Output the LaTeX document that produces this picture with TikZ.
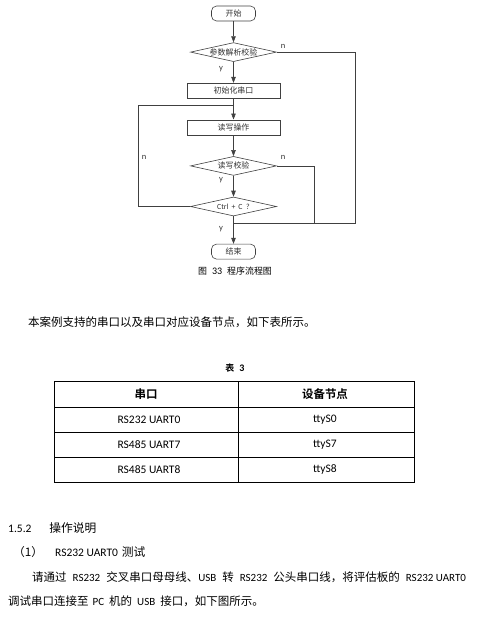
\documentclass[tikz,border=0pt]{standalone}
\usepackage{fontspec}
\setmainfont{Carlito}
\newfontfamily\cjk[Scale=1.21, BoldFont={Noto Sans CJK SC Bold}]{Noto Sans CJK SC}
\usetikzlibrary{positioning, arrows.meta, shapes.geometric}
\definecolor{strich}{HTML}{404040}
\definecolor{schrift}{HTML}{333333}
\newcommand\zh[1]{{\cjk #1}}
\newcommand\zhs[1]{{\fontsize{9.5}{12}\selectfont\cjk #1}}

\begin{document}
\begin{tikzpicture}[x=1pt, y=-1pt, node distance=21pt,
      kapsel/.style={draw=strich, line width=0.6pt, rounded corners=5pt,
        minimum width=44pt, minimum height=15pt, inner sep=0pt,
        text=schrift, font=\fontsize{6.6}{8}\selectfont},
      block/.style={draw=strich, line width=0.6pt, minimum width=93pt,
        minimum height=15pt, inner sep=0pt, text=schrift,
        font=\fontsize{6.6}{8}\selectfont},
      raute/.style={diamond, aspect=4.5, draw=strich, line width=0.6pt,
        minimum width=86pt, minimum height=19pt, inner sep=0pt, text=schrift,
        font=\fontsize{6.6}{8}\selectfont},
      pfeil/.style={-{Triangle[length=6pt, width=4.5pt]}, strich, line width=0.6pt},
      linie/.style={strich, line width=0.6pt},
      marke/.style={inner sep=0pt, text=schrift, font=\fontsize{8.5}{10}\selectfont},
      zeile/.style={anchor=west, inner sep=0pt, font=\fontsize{11}{12}\selectfont},
      titel/.style={anchor=west, inner sep=0pt, font=\fontsize{11.5}{14}\selectfont},
      zelle/.style={inner sep=0pt, font=\fontsize{11.5}{13}\selectfont},
      tabline/.style={black, line width=0.9pt}]
    \useasboundingbox (0,0) rectangle (487,629);
    % flowchart
    \node[kapsel] (start) at (233.5,13.5) {\zh{开始}};
    \node[raute, below=of start] (pruef) {\zh{参数解析校验}};
    \node[block, below=of pruef] (init) {\zh{初始化串口}};
    \node[block, below=of init] (rw) {\zh{读写操作}};
    \node[raute, below=of rw] (rwpruef) {\zh{读写校验}};
    \node[raute, below=of rwpruef] (ctrl) {\fontsize{7.8}{8}\selectfont Ctrl\ \,+\ \,C\ \ ?};
    \node[kapsel, below=27.5pt of ctrl] (ende) {\zh{结束}};
    \coordinate (rechts) at (355,223);
    \coordinate (mitte) at (314,223);
    \coordinate (unten) at (ctrl.south |- rechts);
    \coordinate (links) at (138,105);
    \coordinate (oben) at (init.south |- links);
    \draw[pfeil] (start) -- (pruef);
    \draw[pfeil] (pruef) -- (init);
    \draw[pfeil] (init) -- (rw);
    \draw[pfeil] (rw) -- (rwpruef);
    \draw[pfeil] (rwpruef) -- (ctrl);
    \draw[pfeil] (ctrl) -- (ende);
    \draw[linie] (pruef.east) -| (rechts) -- (unten);
    \draw[linie] (rwpruef.east) -| (mitte);
    \draw[linie] (ctrl.west) -| (links) -- (oben);
    \node[marke] (n1) at (283,46) {n};
    \node[marke] (n2) at (283,157) {n};
    \node[marke] (n3) at (144,157) {n};
    \node[marke] (y1) at (221,69) {y};
    \node[marke] (y2) at (221,180) {y};
    \node[marke] (y3) at (221,229) {y};
    % caption and text
    \node[inner sep=0pt, font=\fontsize{10}{12}\selectfont] (bild) at (235,271)
      {{\fontsize{7.4}{9}\selectfont\cjk 图}\hspace{5pt}33\hspace{5pt}{\fontsize{7.4}{9}\selectfont\cjk 程序流程图}};
    \node[zeile] (satz1) at (28,322) {\zhs{本案例支持的串口以及串口对应设备节点，如下表所示。}};
    \node[inner sep=0pt, font=\fontsize{10}{12}\selectfont\bfseries] (tab) at (235,368)
      {{\fontsize{7.4}{9}\selectfont\cjk 表}\hspace{5pt}3};
    % table
    \draw[tabline] (54,381) rectangle (414,482);
    \foreach \y in {407,432,457}
      \draw[tabline] (54,\y) -- (414,\y);
    \draw[tabline] (238,381) -- (238,482);
    \node[zelle, font=\fontsize{9.5}{11}\selectfont\bfseries] (kopf1) at (146,394) {\zh{串口}};
    \node[zelle, font=\fontsize{9.5}{11}\selectfont\bfseries] (kopf2) at (325,394) {\zh{设备节点}};
    \foreach \port/\dev [count=\i] in {RS232 UART0/ttyS0, RS485 UART7/ttyS7, RS485 UART8/ttyS8} {
      \node[zelle] (port\i) at (149,394.5+25*\i) {\port};
      \node[zelle] (dev\i) at (325,394.5+25*\i) {\dev};
    }
    % section
    \node[titel] (abschnitt) at (8,528)
      {1.5.2\hspace{18pt}{\fontsize{9.7}{12}\selectfont\zh{操作说明}}};
    \node[titel] (punkt) at (13,552)
      {{\fontsize{9.7}{12}\selectfont\zh{（1）}}\hspace{12pt}RS232 UART0\hspace{4pt}{\fontsize{9.7}{12}\selectfont\zh{测试}}};
    \node[zeile] (satz2) at (32,577)
      {\zhs{请通过}\hspace{6pt}RS232\hspace{6pt}\zhs{交叉串口母母线、}USB\hspace{6pt}\zhs{转}\hspace{6pt}RS232\hspace{6pt}\zhs{公头串口线，将评估板的}\hspace{6pt}RS232 UART0};
    \node[zeile] (satz3) at (8,601)
      {\zhs{调试串口连接至}\hspace{4pt}PC\hspace{5pt}\zhs{机的}\hspace{5pt}USB\hspace{5pt}\zhs{接口，如下图所示。}};
  \end{tikzpicture}
\end{document}
